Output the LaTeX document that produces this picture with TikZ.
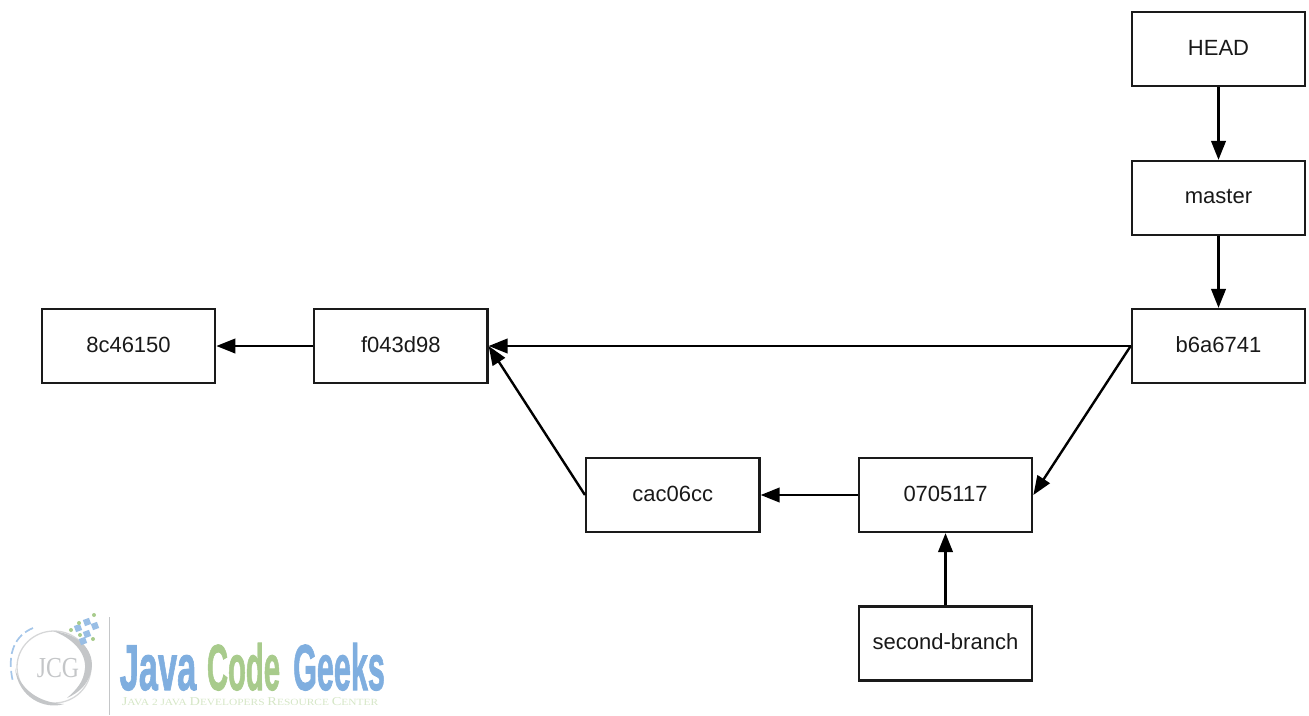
\documentclass[tikz,border=0pt]{standalone}
\usepackage{fontspec}
\setmainfont{Liberation Sans}
\newfontfamily\logofont[UprightFont=* Bold,FakeBold=1.6]{Liberation Sans}
\newfontfamily\jcgfont{Liberation Serif}
\usetikzlibrary{arrows.meta}
\definecolor{jblue}{HTML}{7FAEDF}
\definecolor{jgreen}{HTML}{A8CB8C}
\definecolor{jpale}{HTML}{D5E6C6}
\definecolor{jgray}{HTML}{C4C6C8}
\definecolor{boxline}{HTML}{1A1A1A}
\tikzset{
  refbox/.style={draw=boxline,line width=2.2pt,minimum width=173.5pt,minimum height=74pt,inner sep=0pt,font=\fontsize{22}{26}\selectfont,text=black!90},
  link/.style={draw=black,line width=2.4pt,-{Triangle[length=19pt,width=14.5pt]}},
  logotext/.style={inner sep=0pt,anchor=base},
  dotb/.style={fill=jblue!80,draw=none,rotate=20,minimum size=6.5pt,inner sep=0pt},
  dotg/.style={fill=jgreen,draw=none}
}
\newcommand{\up}[1]{\raisebox{3pt}{#1}}
\newcommand{\tagbig}{\fontsize{12}{12}\selectfont}
\newcommand{\tagsmall}{\fontsize{9.5}{9.5}\selectfont}
\begin{document}
\begin{tikzpicture}[x=1pt,y=-1pt]
\useasboundingbox (0,0) rectangle (1309,715);
\node[refbox] (head) at (1218.5,49) {\up{HEAD}};
\node[refbox] (master) at (1218.5,198) {\up{master}};
\node[refbox] (b6) at (1218.5,346) {\up{b6a6741}};
\node[refbox] (f0) at (400.8,346) {\up{f043d98}};
\node[refbox] (c8) at (128.5,346) {\up{8c46150}};
\node[refbox] (ca) at (672.8,495) {\up{cac06cc}};
\node[refbox] (o7) at (945.5,495) {\up{0705117}};
\node[refbox] (sb) at (945.5,643.5) {\up{second-branch}};
\draw[link] (head) -- (master);
\draw[link] (master) -- (b6);
\draw[link] (b6.west) -- (f0.east);
\draw[link] (f0) -- (c8);
\draw[link] (b6.west) -- (o7.east);
\draw[link] (o7) -- (ca);
\draw[link] (ca.west) -- (f0.east);
\draw[link] (sb) -- (o7);
% logo
\draw[jgray,line width=1.6pt] (109.5,617) -- (109.5,715);
\draw[jgray!70,line width=1.3pt] (54,667) ellipse [x radius=37,y radius=36];
\fill[jgray] (53,631) .. controls (80,634) and (96,652) .. (91,672) .. controls (87,686) and (78,693) .. (67,698) .. controls (76,690) and (84,682) .. (85,668) .. controls (86,652) and (72,638) .. (53,631) -- cycle;
\fill[jgray] (15,668) .. controls (20,690) and (40,703) .. (64,704) .. controls (45,710) and (18,698) .. (15,668) -- cycle;
\draw[jblue!70,line width=1.7pt,dash pattern=on 9pt off 4pt] (33,628) .. controls (16,635) and (6,652) .. (13,682);
\node[logotext,text=jgray,font=\jcgfont\fontsize{29}{29}\selectfont,xscale=.82] (jcg) at (58,677) {JCG};
\foreach \p in {(87,622),(95,626),(78,628),(87,634),(83,641)} \node[dotb] at \p {};
\fill[dotg] (71,630) circle (2);
\fill[dotg] (79,623) circle (2);
\fill[dotg] (94,615) circle (2);
\fill[dotg] (80,635) circle (2);
\fill[dotg] (93,639) circle (2);
\node[logotext,text=jblue,font=\logofont\fontsize{65}{65}\selectfont,xscale=.53] (w1) at (158,690) {Java};
\node[logotext,text=jgreen,font=\logofont\fontsize{65}{65}\selectfont,xscale=.45] (w2) at (243.5,690) {Code};
\node[logotext,text=jblue,font=\logofont\fontsize{65}{65}\selectfont,xscale=.47] (w3) at (339,690) {Geeks};
\node[logotext,text=jpale,font=\jcgfont\tagbig,xscale=1.2] (tag) at (250,705.5) {J\tagsmall AVA 2 J\tagsmall AVA \tagbig D\tagsmall EVELOPERS \tagbig R\tagsmall ESOURCE \tagbig C\tagsmall ENTER};
\end{tikzpicture}
\end{document}
